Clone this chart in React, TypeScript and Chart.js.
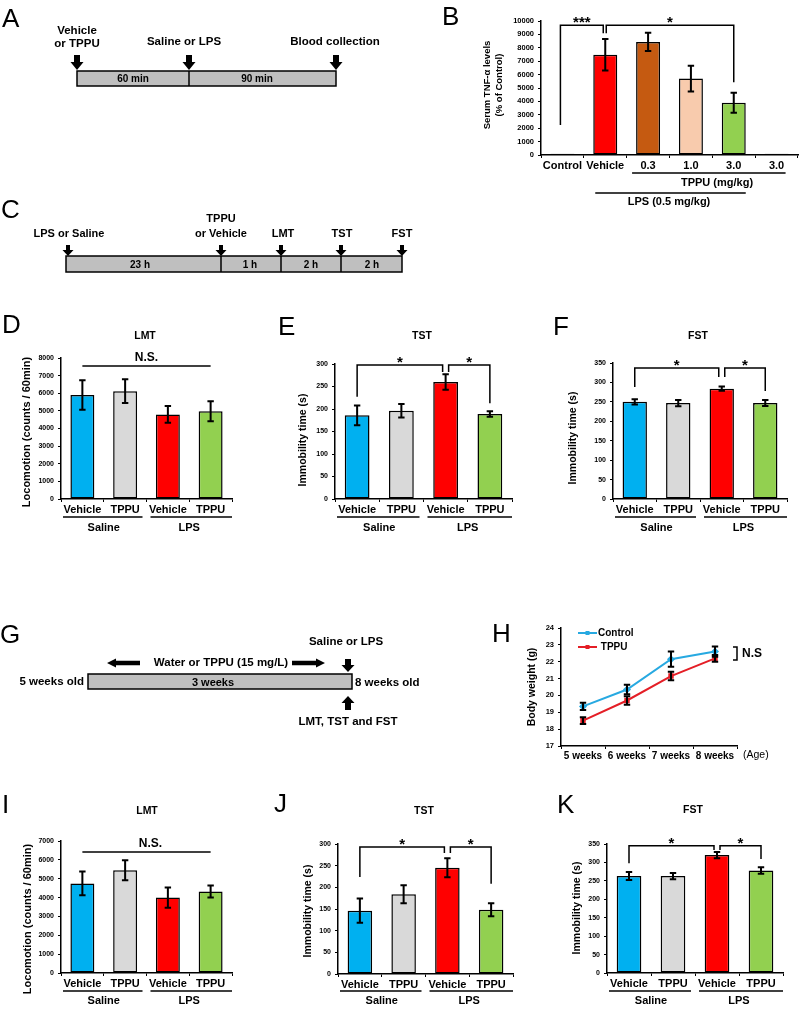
import React, { useEffect, useRef } from 'react';
import { Chart, registerables } from 'chart.js';
Chart.register(...registerables);

const PW = 800, PH = 1010;
const FAM = "'Liberation Sans', Arial, Helvetica, sans-serif";

// ---------------- data ----------------
const treatLabels = ['Vehicle', 'TPPU', 'Vehicle', 'TPPU'];
const groupNames = ['Saline', 'LPS'];
const treatColors = ['#00B0F0', '#D9D9D9', '#FF0000', '#92D050'];

const bLabels = ['Control', 'Vehicle', '0.3', '1.0', '3.0', '3.0'];
const bValues = [100, 7480, 8440, 5700, 3900, 100];
const bErrors = [0, 1170, 680, 960, 750, 0];
const bColors = ['#595959', '#FF0000', '#C55A11', '#F8CBAD', '#92D050', '#595959'];

const dValues = [5900, 6120, 4800, 4980];
const dErrors = [840, 680, 470, 570];
const eValues = [186, 196, 260, 189];
const eErrors = [22, 15, 17, 6];
const fValues = [250, 247, 284, 247];
const fErrors = [7, 8, 5.5, 7.5];

const hLabels = ['5 weeks', '6 weeks', '7 weeks', '8 weeks'];
const hControl = [19.35, 20.35, 22.15, 22.6];
const hControlErr = [0.22, 0.28, 0.45, 0.3];
const hTPPU = [18.5, 19.7, 21.15, 22.2];
const hTPPUErr = [0.2, 0.25, 0.25, 0.2];

const iValues = [4750, 5450, 4000, 4320];
const iErrors = [630, 530, 540, 320];
const jValues = [146, 184, 245, 148];
const jErrors = [28, 21, 22, 15];
const kValues = [263, 263, 320, 278];
const kErrors = [11, 8.5, 8.5, 9];

// ---------------- drawing helpers ----------------
function fnt(size: number, bold = true) {
  return `${bold ? 'bold ' : ''}${size}px ${FAM}`;
}
function text(ctx: any, s: string, x: number, y: number, size: number, align: any = 'center', bold = true, base: any = 'middle') {
  ctx.save();
  ctx.font = fnt(size, bold);
  ctx.fillStyle = '#000';
  ctx.textAlign = align;
  ctx.textBaseline = base;
  ctx.fillText(s, x, y);
  ctx.restore();
}
function vtext(ctx: any, s: string, x: number, y: number, size: number) {
  ctx.save();
  ctx.translate(x, y);
  ctx.rotate(-Math.PI / 2);
  text(ctx, s, 0, 0, size);
  ctx.restore();
}
function poly(ctx: any, pts: number[][], lw = 1.5, color = '#000') {
  ctx.save();
  ctx.strokeStyle = color;
  ctx.lineWidth = lw;
  ctx.beginPath();
  pts.forEach((p, i) => (i === 0 ? ctx.moveTo(p[0], p[1]) : ctx.lineTo(p[0], p[1])));
  ctx.stroke();
  ctx.restore();
}
function bracket(ctx: any, x0: number, x1: number, yTop: number, y0: number, y1: number, label: string) {
  poly(ctx, [[x0, y0], [x0, yTop], [x1, yTop], [x1, y1]]);
  text(ctx, label, (x0 + x1) / 2, yTop + 2, 15, 'center', true, 'alphabetic');
}
function groups(ctx: any, X: any, a: any, yLine: number, yText: number) {
  const mid = (X(1) + X(2)) / 2;
  poly(ctx, [[a.left + 2, yLine], [mid - 4, yLine]]);
  poly(ctx, [[mid + 4, yLine], [a.right, yLine]]);
  text(ctx, groupNames[0], (X(0) + X(1)) / 2, yText, 11);
  text(ctx, groupNames[1], (X(2) + X(3)) / 2, yText, 11);
}
function arrowV(ctx: any, x: number, y0: number, y1: number, headW: number, shaftW: number, headH: number) {
  const d = Math.sign(y1 - y0);
  const hb = y1 - d * headH;
  ctx.save();
  ctx.fillStyle = '#000';
  ctx.beginPath();
  ctx.moveTo(x - shaftW / 2, y0);
  ctx.lineTo(x + shaftW / 2, y0);
  ctx.lineTo(x + shaftW / 2, hb);
  ctx.lineTo(x + headW / 2, hb);
  ctx.lineTo(x, y1);
  ctx.lineTo(x - headW / 2, hb);
  ctx.lineTo(x - shaftW / 2, hb);
  ctx.closePath();
  ctx.fill();
  ctx.restore();
}
function arrowH(ctx: any, x0: number, x1: number, y: number, headH: number, shaftH: number, headL: number) {
  const d = Math.sign(x1 - x0);
  const hb = x1 - d * headL;
  ctx.save();
  ctx.fillStyle = '#000';
  ctx.beginPath();
  ctx.moveTo(x0, y - shaftH / 2);
  ctx.lineTo(hb, y - shaftH / 2);
  ctx.lineTo(hb, y - headH / 2);
  ctx.lineTo(x1, y);
  ctx.lineTo(hb, y + headH / 2);
  ctx.lineTo(hb, y + shaftH / 2);
  ctx.lineTo(x0, y + shaftH / 2);
  ctx.closePath();
  ctx.fill();
  ctx.restore();
}
function timeline(ctx: any, x0: number, x1: number, y0: number, y1: number, dividers: number[]) {
  ctx.save();
  ctx.fillStyle = '#BFBFBF';
  ctx.fillRect(x0, y0, x1 - x0, y1 - y0);
  ctx.strokeStyle = '#000';
  ctx.lineWidth = 1.5;
  ctx.strokeRect(x0, y0, x1 - x0, y1 - y0);
  ctx.restore();
  dividers.forEach((x) => poly(ctx, [[x, y0], [x, y1]]));
}

// ---------------- chart plugins ----------------
function errPlugin(errs: number[][]) {
  return {
    id: 'errbars',
    afterDatasetsDraw(chart: any) {
      const ctx = chart.ctx;
      const ys = chart.scales.y;
      chart.data.datasets.forEach((ds: any, di: number) => {
        const e = errs[di];
        if (!e) return;
        const meta = chart.getDatasetMeta(di);
        ds.data.forEach((v: number, i: number) => {
          if (!e[i]) return;
          const x = meta.data[i].x;
          const yt = ys.getPixelForValue(v + e[i]);
          const yb = ys.getPixelForValue(v - e[i]);
          const c = 3.2;
          ctx.save();
          ctx.strokeStyle = '#000';
          ctx.lineWidth = 2;
          ctx.beginPath();
          ctx.moveTo(x, yt); ctx.lineTo(x, yb);
          ctx.moveTo(x - c, yt); ctx.lineTo(x + c, yt);
          ctx.moveTo(x - c, yb); ctx.lineTo(x + c, yb);
          ctx.stroke();
          ctx.restore();
        });
      });
    },
  };
}
function annPlugin(draw: any) {
  return {
    id: 'ann',
    afterDraw(chart: any) {
      const X = (i: number) => chart.scales.x.getPixelForValue(i);
      const Y = (v: number) => chart.scales.y.getPixelForValue(v);
      draw(chart.ctx, X, Y, chart.chartArea, chart);
    },
  };
}

const YW = 40, XH = 20;
function axisOpts(tickSize: number, xSize: number, min: number, max: number, step: number) {
  const g = { display: true, drawOnChartArea: false, drawTicks: true, tickLength: 3, color: '#000', lineWidth: 1 };
  const b = { display: true, color: '#000', width: 1.5 };
  return {
    x: {
      offset: true,
      afterFit: (s: any) => { s.height = XH; },
      grid: { ...g, offset: true },
      border: b,
      ticks: { font: { family: FAM, size: xSize, weight: 'bold' }, color: '#000', padding: 1, maxRotation: 0, autoSkip: false },
    },
    y: {
      min, max,
      afterFit: (s: any) => { s.width = YW; },
      grid: g,
      border: b,
      ticks: { stepSize: step, font: { family: FAM, size: tickSize, weight: 'bold' }, color: '#000', padding: 4, callback: (v: any) => String(v) },
    },
  };
}
function layoutPad(a: any) {
  return { padding: { left: a.l - YW, right: PW - a.r, top: a.t, bottom: PH - a.b - XH } };
}

function makeBar(canvas: HTMLCanvasElement, p: any) {
  return new Chart(canvas as any, {
    type: 'bar',
    data: {
      labels: p.labels,
      datasets: [{
        data: p.values,
        backgroundColor: p.colors,
        borderColor: '#000',
        borderWidth: 1.5,
        borderSkipped: false,
        barPercentage: p.barPct || 0.56,
        categoryPercentage: 1,
      }],
    },
    options: {
      responsive: false,
      animation: false,
      devicePixelRatio: 1,
      layout: layoutPad(p.area),
      plugins: { legend: { display: false }, tooltip: { enabled: false } },
      scales: axisOpts(p.tickSize || 7, p.xSize || 11, 0, p.max, p.step) as any,
    },
    plugins: [errPlugin([p.errors]), annPlugin(p.draw)],
  } as any);
}

function makeLine(canvas: HTMLCanvasElement) {
  const area = { l: 561, r: 737, t: 628, b: 746 };
  return new Chart(canvas as any, {
    type: 'line',
    data: {
      labels: hLabels,
      datasets: [
        { label: 'Control', data: hControl, borderColor: '#27A9E1', backgroundColor: '#27A9E1', borderWidth: 2, pointStyle: 'rectRot', pointRadius: 2.6, tension: 0 },
        { label: 'TPPU', data: hTPPU, borderColor: '#E41E26', backgroundColor: '#E41E26', borderWidth: 2, pointStyle: 'rect', pointRadius: 2.4, tension: 0 },
      ],
    },
    options: {
      responsive: false,
      animation: false,
      devicePixelRatio: 1,
      layout: layoutPad(area),
      plugins: { legend: { display: false }, tooltip: { enabled: false } },
      scales: axisOpts(7.5, 10, 17, 24, 1) as any,
    },
    plugins: [
      errPlugin([hControlErr, hTPPUErr]),
      annPlugin((ctx: any, X: any, Y: any, a: any, chart: any) => {
        vtext(ctx, 'Body weight (g)', 532, 687, 10.5);
        text(ctx, '(Age)', 743, 755, 10.5, 'left', false);
        chart.data.datasets.forEach((ds: any, k: number) => {
          const y = 633 + k * 14;
          poly(ctx, [[578, y], [597, y]], 2, ds.borderColor);
          ctx.save();
          ctx.fillStyle = ds.borderColor;
          ctx.fillRect(585.5, y - 2, 4, 4);
          ctx.restore();
          text(ctx, k === 0 ? ds.label : ' ' + ds.label, 598, y, 10, 'left');
        });
        const yA = Y(22.87), yB = Y(22.1);
        poly(ctx, [[a.right - 4, yA], [a.right, yA], [a.right, yB], [a.right - 4, yB]]);
        text(ctx, 'N.S', a.right + 5, (yA + yB) / 2, 12, 'left');
      }),
    ],
  } as any);
}

// ---------------- schematic panels ----------------
function drawSchematics(ctx: any) {
  // panel letters
  const letters: [string, number, number][] = [
    ['A', 2, 27], ['B', 442, 25], ['C', 1, 218], ['D', 2, 333], ['E', 278, 335], ['F', 553, 335],
    ['G', 0, 643], ['H', 492, 642], ['I', 2, 813], ['J', 274, 812], ['K', 557, 813],
  ];
  letters.forEach(([s, x, y]) => text(ctx, s, x, y, 26, 'left', false, 'alphabetic'));

  // A
  text(ctx, 'Vehicle', 77, 31, 11.5);
  text(ctx, 'or TPPU', 77, 44, 11.5);
  text(ctx, 'Saline or LPS', 184, 42, 11.5);
  text(ctx, 'Blood collection', 335, 42, 11.5);
  [77, 189, 336].forEach((x) => arrowV(ctx, x, 55, 70, 13, 6, 8));
  timeline(ctx, 77, 336, 71, 86, [189]);
  text(ctx, '60 min', 133, 79, 10);
  text(ctx, '90 min', 257, 79, 10);

  // C
  text(ctx, 'LPS or Saline', 69, 234, 11);
  text(ctx, 'TPPU', 221, 219, 11);
  text(ctx, 'or Vehicle', 221, 234, 11);
  text(ctx, 'LMT', 283, 234, 11);
  text(ctx, 'TST', 342, 234, 11);
  text(ctx, 'FST', 402, 234, 11);
  [68, 221, 281, 341, 402].forEach((x) => arrowV(ctx, x, 245, 256, 11, 4, 6));
  timeline(ctx, 66, 402, 256, 272, [221, 281, 341]);
  text(ctx, '23 h', 140, 265, 10);
  text(ctx, '1 h', 250, 265, 10);
  text(ctx, '2 h', 311, 265, 10);
  text(ctx, '2 h', 372, 265, 10);

  // G
  timeline(ctx, 88, 352, 674, 689, []);
  text(ctx, '3 weeks', 213, 683, 11);
  text(ctx, '5 weeks old', 84, 682, 11.5, 'right');
  text(ctx, '8 weeks old', 355, 683, 11.5, 'left');
  text(ctx, 'Water or TPPU (15 mg/L)', 221, 663, 11.5);
  arrowH(ctx, 140, 107, 663, 9, 4.5, 9);
  arrowH(ctx, 292, 325, 663, 9, 4.5, 9);
  text(ctx, 'Saline or LPS', 346, 642, 11.5);
  arrowV(ctx, 348, 659, 672, 13, 6, 7);
  arrowV(ctx, 348, 710, 696, 13, 6, 7);
  text(ctx, 'LMT, TST and FST', 348, 722, 11.5);
}

// ---------------- panel configs ----------------
const panelB = {
  labels: bLabels, values: bValues, errors: bErrors, colors: bColors,
  area: { l: 541, r: 798, t: 21, b: 155 }, max: 10000, step: 1000, tickSize: 7.5,
  draw: (ctx: any, X: any, Y: any) => {
    vtext(ctx, 'Serum TNF-α levels', 487, 85, 9.5);
    vtext(ctx, '(% of Control)', 499, 85, 9.5);
    bracket(ctx, X(0) - 2, X(1) - 2, Y(9680), Y(2230), Y(9080), '***');
    bracket(ctx, X(1) + 1, X(4), Y(9680), Y(9080), Y(5430), '*');
    poly(ctx, [[X(2) - 16, 173], [X(5) + 9, 173]]);
    text(ctx, 'TPPU (mg/kg)', 717, 183, 11);
    poly(ctx, [[X(1) - 10, 193], [X(4) + 12, 193]]);
    text(ctx, 'LPS (0.5 mg/kg)', 669, 202, 11);
  },
};

const panelD = {
  labels: treatLabels, values: dValues, errors: dErrors, colors: treatColors,
  area: { l: 61, r: 232, t: 358, b: 499 }, max: 8000, step: 1000,
  draw: (ctx: any, X: any, Y: any, a: any) => {
    text(ctx, 'LMT', 145, 336, 10.5);
    vtext(ctx, 'Locomotion (counts / 60min)', 27, 432, 11);
    const y = Y(7546);
    poly(ctx, [[X(0), y], [X(3), y]]);
    text(ctx, 'N.S.', (X(0) + X(3)) / 2, y - 8, 12);
    groups(ctx, X, a, a.bottom + 18, a.bottom + 29);
  },
};

const panelE = {
  labels: treatLabels, values: eValues, errors: eErrors, colors: treatColors,
  area: { l: 335, r: 512, t: 364, b: 499 }, max: 300, step: 50,
  draw: (ctx: any, X: any, Y: any, a: any) => {
    text(ctx, 'TST', 422, 336, 10.5);
    vtext(ctx, 'Immobility time (s)', 303, 440, 10.5);
    bracket(ctx, X(0), X(2) - 3, Y(298), Y(227), Y(282), '*');
    bracket(ctx, X(2) + 3, X(3), Y(298), Y(282), Y(213), '*');
    groups(ctx, X, a, a.bottom + 18, a.bottom + 29);
  },
};

const panelF = {
  labels: treatLabels, values: fValues, errors: fErrors, colors: treatColors,
  area: { l: 613, r: 787, t: 363, b: 499 }, max: 350, step: 50,
  draw: (ctx: any, X: any, Y: any, a: any) => {
    text(ctx, 'FST', 698, 336, 10.5);
    vtext(ctx, 'Immobility time (s)', 573, 438, 10.5);
    bracket(ctx, X(0), X(2) - 3, Y(337), Y(288), Y(314), '*');
    bracket(ctx, X(2) + 3, X(3), Y(337), Y(314), Y(278), '*');
    groups(ctx, X, a, a.bottom + 18, a.bottom + 29);
  },
};

const panelI = {
  labels: treatLabels, values: iValues, errors: iErrors, colors: treatColors,
  area: { l: 61, r: 232, t: 841, b: 973 }, max: 7000, step: 1000,
  draw: (ctx: any, X: any, Y: any, a: any) => {
    text(ctx, 'LMT', 147, 811, 10.5);
    vtext(ctx, 'Locomotion (counts / 60min)', 28, 919, 11);
    const y = Y(6417);
    poly(ctx, [[X(0), y], [X(3), y]]);
    text(ctx, 'N.S.', (X(0) + X(3)) / 2 + 4, y - 8, 12);
    groups(ctx, X, a, a.bottom + 18, a.bottom + 28);
  },
};

const panelJ = {
  labels: treatLabels, values: jValues, errors: jErrors, colors: treatColors,
  area: { l: 338, r: 513, t: 844, b: 974 }, max: 300, step: 50,
  draw: (ctx: any, X: any, Y: any, a: any) => {
    text(ctx, 'TST', 424, 811, 10.5);
    vtext(ctx, 'Immobility time (s)', 308, 911, 10.5);
    bracket(ctx, X(0), X(2) - 3, Y(293), Y(224), Y(279), '*');
    bracket(ctx, X(2) + 3, X(3), Y(293), Y(279), Y(208), '*');
    groups(ctx, X, a, a.bottom + 17, a.bottom + 27);
  },
};

const panelK = {
  labels: treatLabels, values: kValues, errors: kErrors, colors: treatColors,
  area: { l: 607, r: 783, t: 844, b: 973 }, max: 350, step: 50,
  draw: (ctx: any, X: any, Y: any, a: any) => {
    text(ctx, 'FST', 693, 810, 10.5);
    vtext(ctx, 'Immobility time (s)', 577, 908, 10.5);
    bracket(ctx, X(0), X(2) - 3, Y(345), Y(298), Y(334), '*');
    bracket(ctx, X(2) + 3, X(3), Y(345), Y(334), Y(309), '*');
    groups(ctx, X, a, a.bottom + 18, a.bottom + 28);
  },
};

const barPanels = [panelB, panelD, panelE, panelF, panelI, panelJ, panelK];

const canvasStyle: any = { position: 'absolute', left: 0, top: 0, width: PW, height: PH, display: 'block' };

export default function App() {
  const schemRef = useRef<HTMLCanvasElement>(null);
  const lineRef = useRef<HTMLCanvasElement>(null);
  const barRefs = useRef<(HTMLCanvasElement | null)[]>([]);

  useEffect(() => {
    const charts: any[] = [];
    const sc = schemRef.current;
    if (sc) {
      const ctx = sc.getContext('2d');
      if (ctx) {
        ctx.clearRect(0, 0, PW, PH);
        drawSchematics(ctx);
      }
    }
    barPanels.forEach((p, i) => {
      const c = barRefs.current[i];
      if (c) charts.push(makeBar(c, p));
    });
    if (lineRef.current) charts.push(makeLine(lineRef.current));
    return () => charts.forEach((c) => c.destroy());
  }, []);

  return (
    <div style={{ position: 'absolute', left: 0, top: 0, width: PW, height: PH, background: '#fff', overflow: 'hidden' }}>
      <canvas ref={schemRef} width={PW} height={PH} style={canvasStyle} />
      {barPanels.map((_, i) => (
        <canvas key={i} ref={(el) => { barRefs.current[i] = el; }} width={PW} height={PH} style={canvasStyle} />
      ))}
      <canvas ref={lineRef} width={PW} height={PH} style={canvasStyle} />
    </div>
  );
}
